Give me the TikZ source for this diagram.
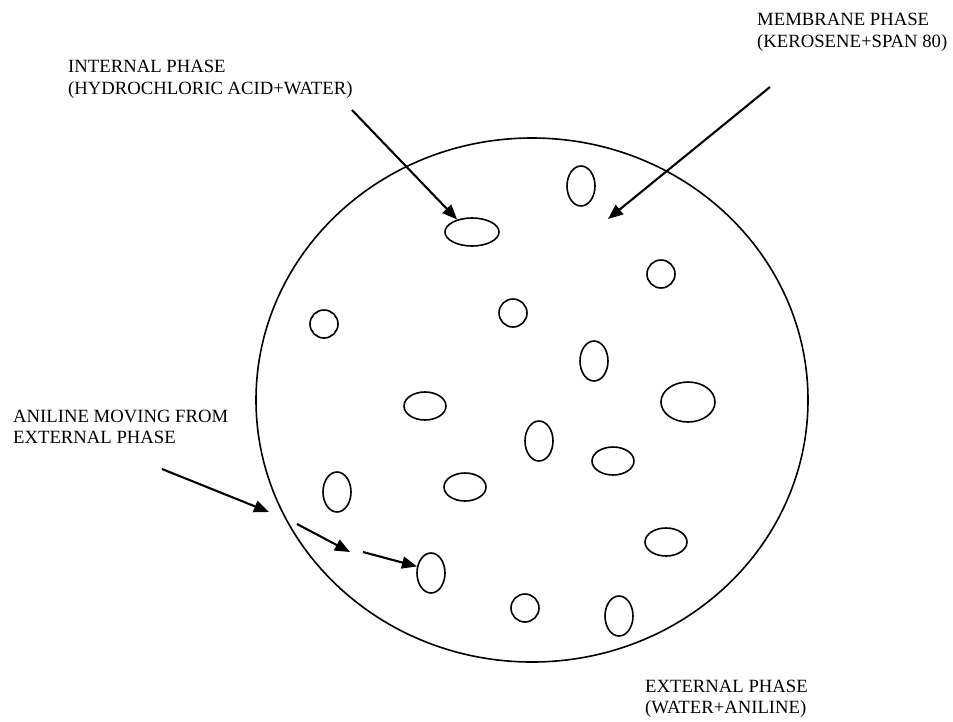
\documentclass[tikz,border=0pt]{standalone}
\usepackage{fontspec}
\setmainfont{Liberation Serif}
\usetikzlibrary{shapes.geometric,arrows.meta}
\begin{document}
\begin{tikzpicture}[x=1pt,y=-1pt,
  glob/.style n args={2}{draw, ellipse, line width=1.6pt, inner sep=0pt, minimum width=#1, minimum height=#2},
  lbl/.style={font=\fontsize{18.7}{22}\selectfont, anchor=base west, inner sep=0pt},
  arr/.style={line width=2.1pt, -{Triangle[length=15pt,width=12pt]}}]
\useasboundingbox (0,0) rectangle (953,721);
% emulsion globule
\node[draw, ellipse, line width=1.6pt, inner sep=0pt, minimum width=552, minimum height=524] (globe) at (532,400) {};
% internal droplets
\node[glob={54}{28}] (e1) at (472,232) {};
\node[glob={28}{40}] (e2) at (581,186) {};
\node[glob={28}{28}] (e3) at (661,274) {};
\node[glob={28}{28}] (e4) at (324,324) {};
\node[glob={28}{28}] (e5) at (513,313) {};
\node[glob={28}{40}] (e6) at (594,361) {};
\node[glob={54}{40}] (e7) at (688,402) {};
\node[glob={42}{28}] (e8) at (425,406) {};
\node[glob={28}{40}] (e9) at (539,441) {};
\node[glob={42}{28}] (e10) at (613,461) {};
\node[glob={42}{28}] (e11) at (465,487) {};
\node[glob={28}{40}] (e12) at (337,492) {};
\node[glob={42}{28}] (e13) at (666,542) {};
\node[glob={28}{40}] (e14) at (431,573) {};
\node[glob={28}{28}] (e15) at (525,608) {};
\node[glob={28}{40}] (e16) at (619,616) {};
% labels
\node[lbl] (int1) at (68,72) {INTERNAL PHASE};
\node[lbl] (int2) at (68,94.5) {(HYDROCHLORIC ACID+WATER)};
\node[lbl] (mem1) at (757,25) {MEMBRANE PHASE};
\node[lbl] (mem2) at (757,47) {(KEROSENE+SPAN 80)};
\node[lbl] (ani1) at (13,422) {ANILINE MOVING FROM};
\node[lbl] (ani2) at (13,443) {EXTERNAL PHASE};
\node[lbl] (ext1) at (645,692) {EXTERNAL PHASE};
\node[lbl] (ext2) at (645,713) {(WATER+ANILINE)};
% arrow ends
\coordinate (aS) at (352,110);
\coordinate (bS) at (770,87);
\coordinate (bT) at (608,219);
\coordinate (cS) at (162,469);
\coordinate (cT) at (269,512);
\coordinate (dS) at (297,524);
\coordinate (dT) at (350,552);
\coordinate (eS) at (363,552);
% arrows
\draw[arr] (aS) -- (e1.140);
\draw[arr] (bS) -- (bT);
\draw[arr] (cS) -- (cT);
\draw[arr] (dS) -- (dT);
\draw[arr] (eS) -- (e14.155);
\end{tikzpicture}
\end{document}
